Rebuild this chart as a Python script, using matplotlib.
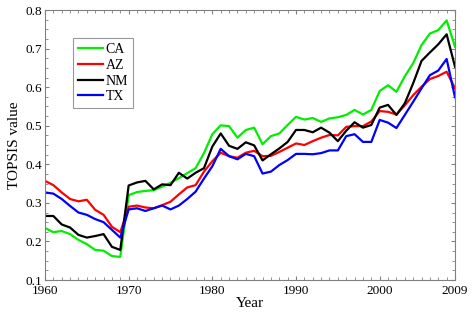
import numpy as np
import matplotlib
matplotlib.use('Agg')
import matplotlib.pyplot as plt
from matplotlib.ticker import MultipleLocator

plt.rcParams['font.family'] = ['Liberation Serif', 'DejaVu Serif']

years = np.arange(1960, 2010)

ca = [0.235, 0.224, 0.227, 0.219, 0.204, 0.193, 0.178, 0.176, 0.162, 0.160,
      0.320, 0.328, 0.331, 0.333, 0.342, 0.352, 0.364, 0.377, 0.390, 0.429,
      0.478, 0.501, 0.499, 0.469, 0.489, 0.495, 0.452, 0.473, 0.480, 0.502,
      0.523, 0.516, 0.520, 0.510, 0.519, 0.522, 0.528, 0.541, 0.529, 0.541,
      0.590, 0.605, 0.588, 0.628, 0.662, 0.709, 0.739, 0.748, 0.773, 0.705]
az = [0.357, 0.346, 0.327, 0.310, 0.304, 0.308, 0.282, 0.269, 0.238, 0.224,
      0.290, 0.293, 0.288, 0.286, 0.294, 0.303, 0.322, 0.340, 0.346, 0.381,
      0.408, 0.430, 0.421, 0.417, 0.430, 0.435, 0.421, 0.422, 0.432, 0.443,
      0.454, 0.450, 0.460, 0.469, 0.476, 0.475, 0.497, 0.499, 0.499, 0.511,
      0.538, 0.536, 0.529, 0.553, 0.579, 0.601, 0.621, 0.629, 0.640, 0.597]
nm = [0.266, 0.266, 0.244, 0.236, 0.217, 0.210, 0.214, 0.219, 0.186, 0.178,
      0.345, 0.353, 0.357, 0.335, 0.348, 0.346, 0.378, 0.363, 0.378, 0.390,
      0.446, 0.480, 0.448, 0.440, 0.457, 0.449, 0.410, 0.426, 0.441, 0.458,
      0.489, 0.489, 0.483, 0.495, 0.482, 0.460, 0.487, 0.509, 0.495, 0.502,
      0.547, 0.554, 0.528, 0.558, 0.610, 0.668, 0.690, 0.711, 0.737, 0.653]
tx = [0.327, 0.324, 0.310, 0.292, 0.275, 0.269, 0.258, 0.250, 0.230, 0.210,
      0.283, 0.286, 0.279, 0.286, 0.293, 0.283, 0.293, 0.310, 0.329, 0.363,
      0.395, 0.440, 0.421, 0.413, 0.427, 0.421, 0.376, 0.381, 0.398, 0.411,
      0.427, 0.427, 0.426, 0.429, 0.436, 0.436, 0.473, 0.478, 0.458, 0.458,
      0.515, 0.508, 0.494, 0.528, 0.562, 0.597, 0.631, 0.643, 0.673, 0.574]

series = [('CA', ca, '#00ee00'), ('AZ', az, '#ff0000'),
          ('NM', nm, '#000000'), ('TX', tx, '#0000ff')]

fig = plt.figure(figsize=(4.75, 3.22), dpi=100)
ax = fig.add_axes([0.0947, 0.1304, 0.8632, 0.8385])

for name, vals, col in series:
    ax.plot(years, vals, color=col, lw=1.6, label=name)

ax.set_xlim(1960, 2009)
ax.set_ylim(0.1, 0.8)
ax.set_xticks([1960, 1970, 1980, 1990, 2000, 2009])
ax.set_yticks(np.arange(0.1, 0.81, 0.1))
ax.set_yticklabels(['0.1', '0.2', '0.3', '0.4', '0.5', '0.6', '0.7', '0.8'])
ax.xaxis.set_minor_locator(MultipleLocator(1))
ax.yaxis.set_minor_locator(MultipleLocator(0.025))
ax.tick_params(which='both', direction='in', top=True, right=True,
               color='#808080', labelsize=9.5)
ax.tick_params(axis='x', pad=3.5)
ax.tick_params(axis='y', pad=2)
ax.tick_params(which='major', length=3)
ax.tick_params(which='minor', length=2)
for s in ax.spines.values():
    s.set_color('#808080')
    s.set_linewidth(0.8)

ax.set_xlabel('Year', fontsize=11, labelpad=0)
ax.set_ylabel('TOPSIS value', fontsize=11, labelpad=3)

leg = ax.legend(loc='upper left', bbox_to_anchor=(0.068, 0.896), fontsize=10,
                frameon=True, fancybox=False, edgecolor='#808080',
                handlelength=1.8, handletextpad=0.2, labelspacing=0.2,
                borderpad=0.35, borderaxespad=0)
leg.get_frame().set_linewidth(0.8)

fig.savefig('out.png', dpi=100)
